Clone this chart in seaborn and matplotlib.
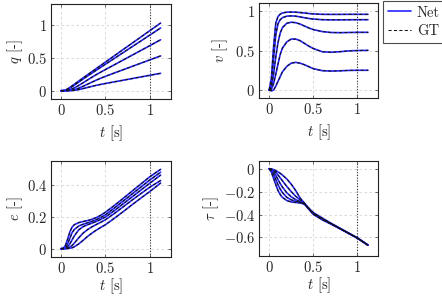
import numpy as np
import pandas as pd
import matplotlib
matplotlib.use("Agg")
import matplotlib.pyplot as plt
import seaborn as sns
from matplotlib.lines import Line2D
from matplotlib.ticker import FuncFormatter

# ---------------- data ----------------
t = [0, 0.025, 0.05, 0.075, 0.1, 0.125, 0.15, 0.2, 0.25, 0.3, 0.35, 0.4,
     0.45, 0.5, 0.6, 0.7, 0.8, 0.9, 1.0, 1.12]

q_curves = [
    [0, 0.002, 0.01, 0.028, 0.05, 0.074, 0.098, 0.147, 0.196, 0.244, 0.292, 0.34,
     0.388, 0.436, 0.532, 0.628, 0.723, 0.819, 0.915, 1.03],
    [0, 0.001, 0.007, 0.021, 0.04, 0.062, 0.085, 0.132, 0.179, 0.225, 0.27, 0.314,
     0.359, 0.403, 0.492, 0.581, 0.67, 0.759, 0.848, 0.955],
    [0, 0, 0.002, 0.007, 0.016, 0.028, 0.043, 0.08, 0.122, 0.165, 0.207, 0.247,
     0.285, 0.322, 0.395, 0.468, 0.541, 0.614, 0.687, 0.775],
    [0, 0, 0, 0.001, 0.004, 0.009, 0.016, 0.038, 0.068, 0.1, 0.132, 0.163,
     0.192, 0.219, 0.27, 0.32, 0.37, 0.42, 0.47, 0.53],
    [0, 0, 0, 0, 0.001, 0.003, 0.006, 0.017, 0.033, 0.05, 0.067, 0.083,
     0.097, 0.11, 0.135, 0.16, 0.185, 0.21, 0.235, 0.265],
]

v_curves = [
    [0, 0.15, 0.55, 0.85, 0.93, 0.96, 0.975, 0.985, 0.987, 0.985, 0.98, 0.975,
     0.968, 0.963, 0.958, 0.957, 0.957, 0.958, 0.958, 0.958],
    [0, 0.08, 0.4, 0.7, 0.84, 0.89, 0.915, 0.935, 0.938, 0.935, 0.925, 0.915,
     0.905, 0.898, 0.89, 0.888, 0.888, 0.889, 0.89, 0.89],
    [0, 0.03, 0.2, 0.42, 0.6, 0.72, 0.79, 0.845, 0.858, 0.852, 0.835, 0.81,
     0.785, 0.765, 0.74, 0.728, 0.726, 0.728, 0.73, 0.73],
    [0, 0.01, 0.08, 0.2, 0.33, 0.45, 0.53, 0.61, 0.645, 0.645, 0.625, 0.59,
     0.555, 0.525, 0.485, 0.478, 0.485, 0.495, 0.5, 0.502],
    [0, -0.01, 0.0, 0.05, 0.11, 0.17, 0.23, 0.3, 0.34, 0.35, 0.34, 0.32,
     0.295, 0.27, 0.245, 0.24, 0.243, 0.248, 0.25, 0.25],
]

e_curves = [
    [0, 0.003, 0.02, 0.06, 0.105, 0.135, 0.15, 0.163, 0.17, 0.176, 0.184, 0.195,
     0.21, 0.228, 0.27, 0.315, 0.36, 0.405, 0.45, 0.496],
    [0, 0.001, 0.008, 0.03, 0.065, 0.1, 0.12, 0.142, 0.153, 0.162, 0.171, 0.182,
     0.196, 0.212, 0.254, 0.298, 0.342, 0.386, 0.43, 0.478],
    [0, 0, 0.003, 0.012, 0.03, 0.055, 0.08, 0.118, 0.138, 0.15, 0.16, 0.171,
     0.184, 0.198, 0.238, 0.281, 0.324, 0.367, 0.41, 0.46],
    [0, 0, 0.001, 0.004, 0.01, 0.02, 0.035, 0.068, 0.098, 0.12, 0.137, 0.152,
     0.166, 0.181, 0.22, 0.262, 0.304, 0.345, 0.385, 0.426],
    [0, 0, 0, 0.001, 0.003, 0.006, 0.012, 0.03, 0.053, 0.077, 0.098, 0.117,
     0.134, 0.15, 0.19, 0.232, 0.275, 0.317, 0.358, 0.41],
]

tau_curves = [
    [0, -0.03, -0.085, -0.14, -0.19, -0.225, -0.25, -0.278, -0.29, -0.295, -0.298, -0.31,
     -0.345, -0.383, -0.43, -0.476, -0.519, -0.562, -0.604, -0.667],
    [0, -0.015, -0.05, -0.095, -0.14, -0.178, -0.208, -0.25, -0.272, -0.285, -0.293, -0.308,
     -0.348, -0.388, -0.435, -0.478, -0.52, -0.563, -0.605, -0.667],
    [0, -0.008, -0.028, -0.058, -0.095, -0.13, -0.16, -0.21, -0.245, -0.27, -0.288, -0.306,
     -0.352, -0.392, -0.44, -0.48, -0.521, -0.563, -0.605, -0.667],
    [0, -0.004, -0.015, -0.032, -0.055, -0.08, -0.105, -0.155, -0.2, -0.24, -0.272, -0.303,
     -0.355, -0.395, -0.442, -0.481, -0.522, -0.564, -0.606, -0.668],
    [0, -0.002, -0.008, -0.017, -0.028, -0.04, -0.055, -0.09, -0.135, -0.19, -0.255, -0.3,
     -0.35, -0.398, -0.445, -0.483, -0.523, -0.564, -0.606, -0.668],
]

x_ticks = [0, 0.5, 1]
q_ticks = [0, 0.5, 1]
v_ticks = [0, 0.5, 1]
e_ticks = [0, 0.2, 0.4]
tau_ticks = [-0.6, -0.4, -0.2, 0]

ylabels = [r"$q$ [-]", r"$v$ [-]", r"$e$ [-]", r"$\tau$ [-]"]
xlabel = r"$t$ [s]"
legend_labels = ["Net", "GT"]

# ---------------- style ----------------
sns.set_style("white")
plt.rcParams["font.family"] = ["cmr10", "DejaVu Serif"]
plt.rcParams["mathtext.fontset"] = "cm"
plt.rcParams["axes.formatter.use_mathtext"] = True
plt.rcParams["axes.unicode_minus"] = True

W, H = 442, 297
fig = plt.figure(figsize=(W / 100, H / 100), dpi=100)

def box(x0, y0, x1, y1):
    return [x0 / W, 1 - y1 / H, (x1 - x0) / W, (y1 - y0) / H]

axes_specs = [
    (box(51, 4, 171, 99), q_curves, q_ticks, (-0.126, 1.32), -0.22, -0.255),
    (box(259.3, 2.7, 378.3, 97.7), v_curves, v_ticks, (-0.097, 1.105), -0.25, -0.255),
    (box(51, 160.7, 171, 256.7), e_curves, e_ticks, (-0.05, 0.55), -0.22, -0.205),
    (box(259.3, 160.7, 378.3, 256.0), tau_curves, tau_ticks, (-0.762, 0.07), -0.32, -0.205),
]

fmt = FuncFormatter(lambda v, p: "$%g$" % v)

BLUE = "#2525ff"
FS = 10.5
for (rect, curves, yticks, ylim, ylab_x, xlab_y), ylab in zip(axes_specs, ylabels):
    ax = fig.add_axes(rect)
    rows = []
    for k, c in enumerate(curves):
        for ti, vi in zip(t, c):
            rows.append({"t": ti, "val": vi, "traj": k})
    df = pd.DataFrame(rows)
    sns.lineplot(data=df, x="t", y="val", units="traj", estimator=None,
                 color=BLUE, lw=1.2, ax=ax, sort=False)
    sns.lineplot(data=df, x="t", y="val", units="traj", estimator=None,
                 color="#141414", lw=0.75, ax=ax, sort=False,
                 linestyle=(0, (3.0, 2.2)))
    ax.axvline(1.0, color="#333333", lw=0.8, ls=(0, (1, 1.5)), zorder=1)
    ax.set_xlim(-0.112, 1.237)
    ax.set_ylim(*ylim)
    ax.set_xticks(x_ticks)
    ax.set_yticks(yticks)
    ax.xaxis.set_major_formatter(fmt)
    ax.yaxis.set_major_formatter(fmt)
    ax.grid(True, color="#d4d4d4", lw=0.6, ls=(0, (3, 3)))
    ax.set_axisbelow(True)
    ax.tick_params(direction="in", length=2.5, width=0.6, color="#555555",
                   labelsize=FS, pad=3, top=True, right=True,
                   bottom=True, left=True)
    for s in ax.spines.values():
        s.set_color("#222222")
        s.set_linewidth(0.8)
    ax.set_xlabel(xlabel, fontsize=FS)
    ax.set_ylabel(ylab, fontsize=FS)
    ax.xaxis.set_label_coords(0.5, xlab_y)
    ax.yaxis.set_label_coords(ylab_x, 0.5)

handles = [Line2D([], [], color=BLUE, lw=1.2),
           Line2D([], [], color="#141414", lw=0.75, ls=(0, (3.0, 2.2)))]
leg = fig.legend(handles, legend_labels, loc="upper left",
                 bbox_to_anchor=(382.7 / W, 1 - 0.7 / H), frameon=True,
                 fancybox=False, fontsize=FS, handlelength=1.6,
                 handletextpad=0.4, borderpad=0.35, labelspacing=0.3,
                 borderaxespad=0)
leg.get_frame().set_edgecolor("#222222")
leg.get_frame().set_linewidth(0.8)

fig.savefig("out.png", dpi=100)
